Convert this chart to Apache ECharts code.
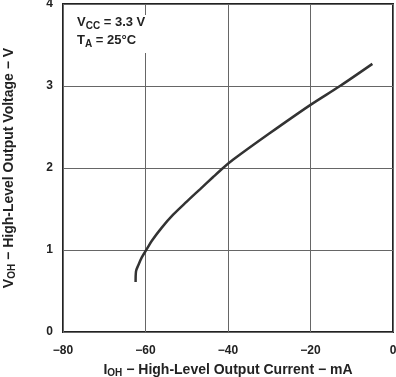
<!DOCTYPE html>
<html><head><meta charset="utf-8">
<script src="https://cdn.jsdelivr.net/npm/echarts@6/dist/echarts.min.js"></script>
<style>html,body{margin:0;padding:0;background:#fff}#c{width:396px;height:377px}</style>
</head><body><div id="c"></div>
<script>
const currentMA = [-62.4, -62.3, -61.7, -60.9, -59.7, -58.5, -56.1, -53.3, -50.0, -46.8, -43.6, -41.2, -38.8, -30, -20, -12.85, -5];
const voltageV = [0.61, 0.74, 0.82, 0.91, 1.01, 1.11, 1.27, 1.43, 1.59, 1.74, 1.89, 2.0, 2.10, 2.42, 2.77, 3.0, 3.27];
const xTicks = [-80, -60, -40, -20, 0];
const yTicks = [0, 1, 2, 3, 4];

const F = '"Liberation Sans", Arial, sans-serif';
const chart = echarts.init(document.getElementById('c'), null, {renderer: 'canvas'});
chart.setOption({
  animation: false,
  grid: {left: 63, right: 3, top: 4, bottom: 45, show: true, borderColor: '#222', borderWidth: 2,
    containLabel: false, outerBoundsMode: 'none'},
  xAxis: {
    type: 'value', min: xTicks[0], max: xTicks[xTicks.length - 1], interval: 20,
    axisLine: {show: false}, axisTick: {show: false},
    splitLine: {lineStyle: {color: '#666', width: 1}},
    axisLabel: {margin: 13, color: '#222', fontFamily: F, fontWeight: 'bold', fontSize: 12,
      formatter: v => v < 0 ? '\u2212' + Math.abs(v) : String(v)},
    name: '{n|I}{s|OH}{n| \u2212 High-Level Output Current \u2212 mA}',
    nameLocation: 'middle', nameGap: 30,
    nameTextStyle: {rich: {
      n: {fontFamily: F, fontWeight: 'bold', fontSize: 14, color: '#222'},
      s: {fontFamily: F, fontWeight: 'bold', fontSize: 10, color: '#222', verticalAlign: 'bottom', padding: [6,0,0,0]}
    }}
  },
  yAxis: {
    type: 'value', min: yTicks[0], max: yTicks[yTicks.length - 1], interval: 1,
    axisLine: {show: false}, axisTick: {show: false},
    splitLine: {lineStyle: {color: '#666', width: 1}},
    axisLabel: {margin: 10, color: '#222', fontFamily: F, fontWeight: 'bold', fontSize: 12},
    name: '{n|V}{s|OH}{n| \u2212 High-Level Output Voltage \u2212 V}',
    nameLocation: 'middle', nameGap: 46, nameRotate: 90,
    nameTextStyle: {rich: {
      n: {fontFamily: F, fontWeight: 'bold', fontSize: 14, color: '#222'},
      s: {fontFamily: F, fontWeight: 'bold', fontSize: 10, color: '#222', verticalAlign: 'bottom', padding: [6,0,0,0]}
    }}
  },
  series: [{
    type: 'line', smooth: 0.3, symbol: 'none',
    data: currentMA.map((x, i) => [x, voltageV[i]]),
    lineStyle: {color: '#333', width: 2.5}
  }],
  graphic: [{
    type: 'rect', left: 70, top: 15, shape: {width: 93, height: 38},
    style: {fill: '#fff'}, z: 10
  }, {
    type: 'text', left: 77, top: 15, z: 11,
    style: {
      text: '{n|V}{s|CC}{n| = 3.3 V}\n{n|T}{s|A}{n| = 25°C}',
      rich: {
        n: {fontFamily: F, fontWeight: 'bold', fontSize: 13, fill: '#222', lineHeight: 18},
        s: {fontFamily: F, fontWeight: 'bold', fontSize: 10, fill: '#222', lineHeight: 18, verticalAlign: 'bottom', padding: [6,0,0,0]}
      }
    }
  }]
});
</script></body></html>
